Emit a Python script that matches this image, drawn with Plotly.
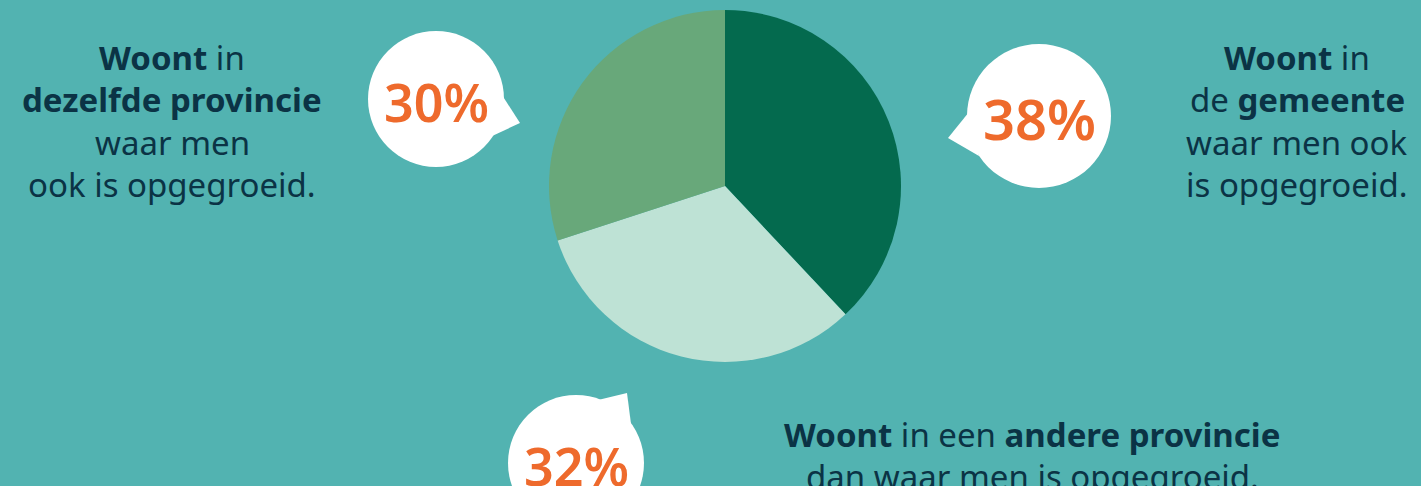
import plotly.graph_objects as go

labels = ["Woont in de gemeente", "Woont in een andere provincie", "Woont in dezelfde provincie"]
values = [38, 32, 30]
colors = ["#046A4E", "#BEE2D5", "#68A87A"]
pct_labels = ["38%", "32%", "30%"]

BG = "#52B3B1"
NAVY = "#0B3345"
ORANGE = "#EE6A2C"
FONT = "Noto Sans"

W, H = 1421, 486
fig = go.Figure()

# pie centre (725,186), radius 176 in pixels
cx, cy, r = 725, 186, 176
fig.add_trace(go.Pie(
    labels=labels, values=values, sort=False, direction="clockwise", rotation=0,
    marker=dict(colors=colors, line=dict(width=0)), textinfo="none", hoverinfo="label+percent",
    domain=dict(x=[(cx - r) / W, (cx + r) / W], y=[1 - (cy + r) / H, 1 - (cy - r) / H]),
    showlegend=False,
))

shapes = []
annotations = []

# callout bubbles: centre x, centre y, radius, tail (tip, base1, base2), label, font size
bubbles = [
    (1039, 116, 72, [(948, 138), (969, 112), (979, 156)], pct_labels[0], 56),
    (576, 463, 68, [(627, 393), (598, 400), (631, 424)], pct_labels[1], 52),
    (436, 99, 68, [(520, 123), (502, 95), (490, 137)], pct_labels[2], 52),
]
for bx, by, br, tail, txt, fs in bubbles:
    shapes.append(dict(type="circle", xref="x", yref="y", x0=bx - br, x1=bx + br, y0=by - br, y1=by + br,
                       fillcolor="white", line=dict(width=0), layer="above"))
    p = "M {} {} L {} {} L {} {} Z".format(tail[0][0], tail[0][1], tail[1][0], tail[1][1], tail[2][0], tail[2][1])
    shapes.append(dict(type="path", xref="x", yref="y", path=p, fillcolor="white", line=dict(width=0), layer="above"))
    annotations.append(dict(x=bx, y=by + 2, xref="x", yref="y", text=txt, showarrow=False,
                            font=dict(family=FONT, size=fs, color=ORANGE, weight=600),
                            xanchor="center", yanchor="middle"))

left_lines = ["<b>Woont</b> in", "<b>dezelfde provincie</b>", "waar men", "ook is opgegroeid."]
right_lines = ["<b>Woont</b> in", "de <b>gemeente</b>", "waar men ook", "is opgegroeid."]
bottom_lines = ["<b>Woont</b> in een <b>andere provincie</b>", "dan waar men is opgegroeid."]

TS = 33
for i, t in enumerate(left_lines):
    annotations.append(dict(x=172, y=57 + i * 42.5, xref="x", yref="y", text=t, showarrow=False,
                            font=dict(family=FONT, size=TS, color=NAVY), xanchor="center", yanchor="middle"))
for i, t in enumerate(right_lines):
    annotations.append(dict(x=1297, y=57 + i * 42.5, xref="x", yref="y", text=t, showarrow=False,
                            font=dict(family=FONT, size=TS, color=NAVY), xanchor="center", yanchor="middle"))
for i, t in enumerate(bottom_lines):
    annotations.append(dict(x=1032, y=434 + i * 42, xref="x", yref="y", text=t, showarrow=False,
                            font=dict(family=FONT, size=TS, color=NAVY), xanchor="center", yanchor="middle"))

fig.update_layout(
    width=W, height=H, margin=dict(l=0, r=0, t=0, b=0),
    paper_bgcolor=BG, plot_bgcolor=BG,
    xaxis=dict(range=[0, W], visible=False, fixedrange=True),
    yaxis=dict(range=[H, 0], visible=False, fixedrange=True),
    shapes=shapes, annotations=annotations,
)
fig.write_html("out.html", config={"displayModeBar": False},
               post_script="document.body.style.margin='0';document.body.style.overflow='hidden';")
